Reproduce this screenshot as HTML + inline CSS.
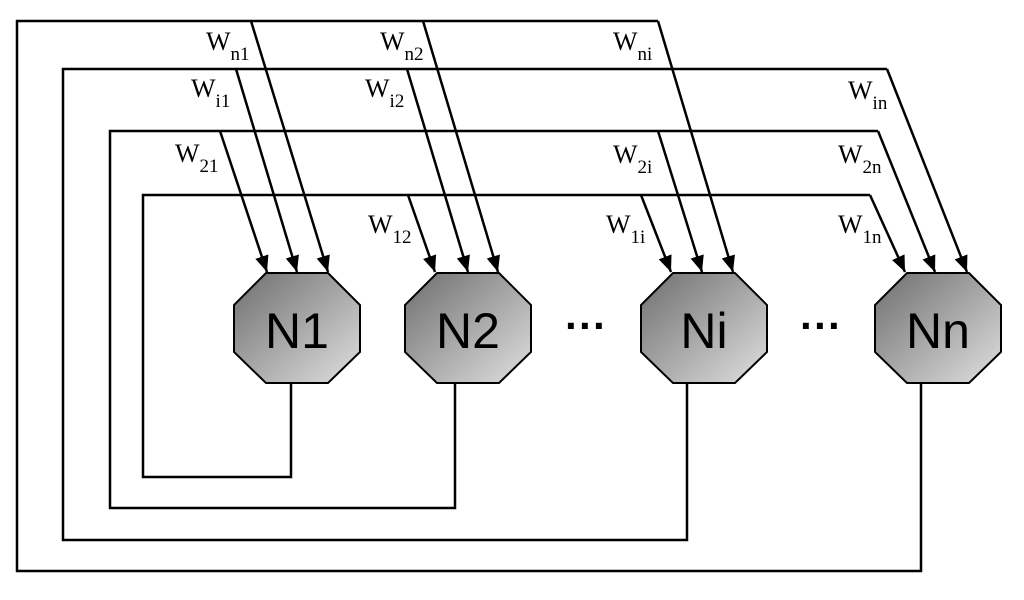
<!DOCTYPE html>
<html><head><meta charset="utf-8"><style>
html,body{margin:0;padding:0;background:#fff;}
svg{display:block;}
.l{font-family:"Liberation Serif",serif;font-size:26px;fill:#000;}
.s{font-size:19px;}
.n{font-family:"Liberation Sans",sans-serif;font-size:50px;fill:#000;}
</style></head><body>
<svg width="1024" height="600" viewBox="0 0 1024 600">
<defs>
<linearGradient id="g" x1="0" y1="0" x2="1" y2="1">
<stop offset="0" stop-color="#6e6e6e"/><stop offset="1" stop-color="#e0e0e0"/>
</linearGradient>
<marker id="a" viewBox="0 0 10 10" refX="10" refY="5" markerWidth="6.5" markerHeight="5.5" orient="auto" markerUnits="strokeWidth" preserveAspectRatio="none">
<path d="M0,0 L10,5 L0,10 z" fill="#000"/>
</marker>
</defs>
<g fill="none" stroke="#000" stroke-width="2.5">
<polyline points="291,383 291,477 143,477 143,195 870,195"/>
<polyline points="455,383 455,508 110,508 110,131 878,131"/>
<polyline points="687,383 687,540 63,540 63,69 887,69"/>
<polyline points="921,383 921,571 17,571 17,21 658,21"/>
<g marker-end="url(#a)">
<line x1="251" y1="21" x2="328" y2="272"/>
<line x1="236" y1="69" x2="297" y2="272"/>
<line x1="220" y1="131" x2="267" y2="272"/>
<line x1="423" y1="21" x2="498" y2="272"/>
<line x1="407" y1="69" x2="468" y2="272"/>
<line x1="408" y1="195" x2="435" y2="272"/>
<line x1="658" y1="21" x2="733" y2="272"/>
<line x1="658" y1="131" x2="702" y2="272"/>
<line x1="641" y1="195" x2="671" y2="272"/>
<line x1="887" y1="69" x2="967" y2="272"/>
<line x1="878" y1="131" x2="935" y2="272"/>
<line x1="870" y1="195" x2="905" y2="272"/>
</g>
</g>
<g fill="url(#g)" stroke="#000" stroke-width="2">
<polygon points="266,273 328,273 360,305 360,352 328,383 266,383 234,352 234,305"/>
<polygon points="437,273 499,273 531,305 531,352 499,383 437,383 405,352 405,305"/>
<polygon points="673,273 735,273 767,305 767,352 735,383 673,383 641,352 641,305"/>
<polygon points="907,273 969,273 1001,305 1001,352 969,383 907,383 875,352 875,305"/>
</g>
<text class="n" x="297" y="348" text-anchor="middle">N1</text>
<text class="n" x="468" y="348" text-anchor="middle">N2</text>
<text class="n" x="704" y="348" text-anchor="middle">Ni</text>
<text class="n" x="938" y="348" text-anchor="middle">Nn</text>
<text class="n" x="586" y="340" text-anchor="middle" style="font-weight:bold;font-size:42px">···</text>
<text class="n" x="821" y="340" text-anchor="middle" style="font-weight:bold;font-size:42px">···</text>
<g class="l">
<text x="206" y="50">W<tspan class="s" dy="10">n1</tspan></text>
<text x="191" y="97">W<tspan class="s" dy="10">i1</tspan></text>
<text x="175" y="162">W<tspan class="s" dy="10">21</tspan></text>
<text x="380" y="50">W<tspan class="s" dy="10">n2</tspan></text>
<text x="365" y="97">W<tspan class="s" dy="10">i2</tspan></text>
<text x="368" y="233">W<tspan class="s" dy="10">12</tspan></text>
<text x="613" y="50">W<tspan class="s" dy="10">ni</tspan></text>
<text x="613" y="163">W<tspan class="s" dy="10">2i</tspan></text>
<text x="606" y="233">W<tspan class="s" dy="10">1i</tspan></text>
<text x="848" y="99">W<tspan class="s" dy="10">in</tspan></text>
<text x="838" y="163">W<tspan class="s" dy="10">2n</tspan></text>
<text x="838" y="233">W<tspan class="s" dy="10">1n</tspan></text>
</g>
</svg>
</body></html>
